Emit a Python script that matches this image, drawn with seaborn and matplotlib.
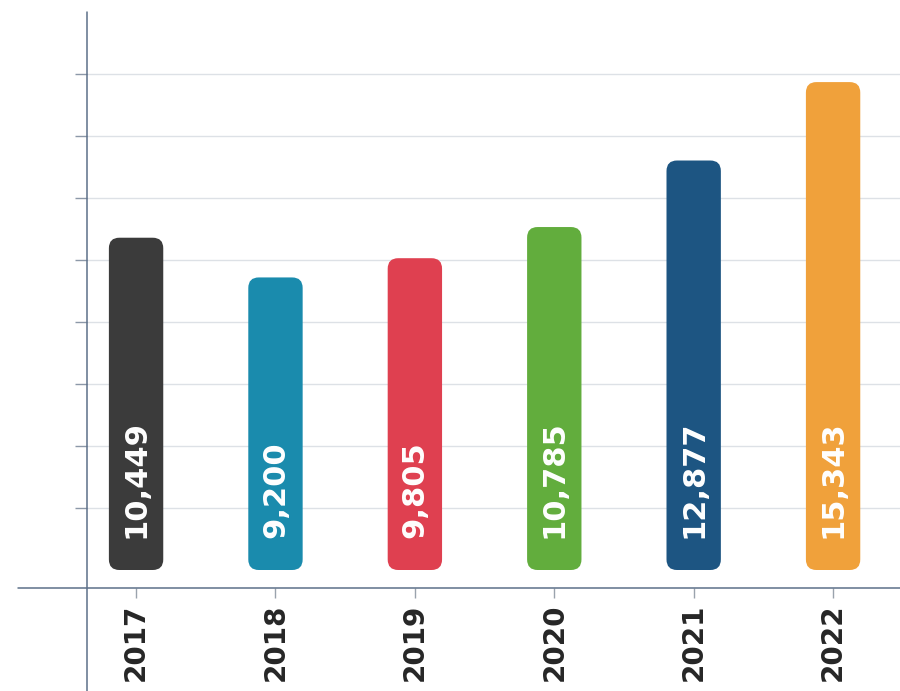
import numpy as np
import pandas as pd
import matplotlib.pyplot as plt
import seaborn as sns
from matplotlib.patches import FancyBboxPatch

# chart data
years = ["2017", "2018", "2019", "2020", "2021", "2022"]
values = [10449, 9200, 9805, 10785, 12877, 15343]
labels = ["10,449", "9,200", "9,805", "10,785", "12,877", "15,343"]
colors = ["#3b3b3b", "#1a8bad", "#df4050", "#62ad3d", "#1d5582", "#f0a13b"]

df = pd.DataFrame({"year": years, "value": values})

sns.set_theme(style="white")
plt.rcParams["font.family"] = ["DejaVu Sans"]

fig = plt.figure(figsize=(9, 6.91), dpi=100)
ax = fig.add_axes([87 / 900, 103 / 691, 813 / 900, 576 / 691])

sns.barplot(data=df, x="year", y="value", hue="year", palette=colors,
            saturation=1, legend=False, width=0.39, ax=ax)

# swap the plain bars for rounded ones
for p in list(ax.patches):
    x, y = p.get_x(), p.get_y()
    w, h = p.get_width(), p.get_height()
    fc = p.get_facecolor()
    p.remove()
    ax.add_patch(FancyBboxPatch((x, y), w, h,
                                boxstyle="round,pad=0,rounding_size=0.075",
                                mutation_aspect=4400, fc=fc, ec="none", zorder=3))

ax.set_xlim(-0.352, 5.48)
ax.set_ylim(-566, 17547)
ax.set_yticks(np.arange(1950, 16000, 1950))
ax.yaxis.grid(True, color="#dde1e6", linewidth=1)
ax.set_axisbelow(True)
for s in ax.spines.values():
    s.set_visible(False)

ax.set_xlabel("")
ax.set_ylabel("")
ax.tick_params(axis="y", left=True, length=9, width=1, color="#8c98a8", labelleft=False)
ax.tick_params(axis="x", bottom=True, length=7, width=1, color="#9aa3ad", pad=4)
for t in ax.get_xticklabels():
    t.set_rotation(90)
    t.set_fontsize(20)
    t.set_fontweight("bold")
    t.set_color("#262626")

# axis lines reaching past the plot area
axis_col = "#5d7089"
ax.plot([0, 0], [-0.179, 1.0], transform=ax.transAxes, color=axis_col,
        lw=1.1, clip_on=False, zorder=5)
ax.plot([-0.085, 1.0], [0, 0], transform=ax.transAxes, color=axis_col,
        lw=1.1, clip_on=False, zorder=5)

# value labels inside bars
for i, lab in enumerate(labels):
    ax.annotate(lab, xy=(i, 0), xytext=(0, 23), textcoords="offset points",
                rotation=90, ha="center", va="bottom", color="white",
                fontsize=22, fontweight="bold", zorder=6)

fig.savefig("out.png", dpi=100)
